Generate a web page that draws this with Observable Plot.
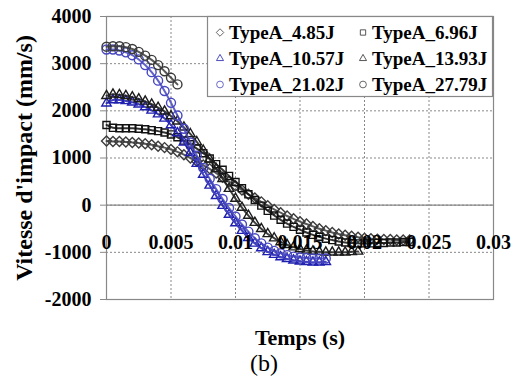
<!DOCTYPE html>
<html>
<head>
<meta charset="utf-8">
<script src="https://cdn.jsdelivr.net/npm/d3@7"></script>
<script src="https://cdn.jsdelivr.net/npm/@observablehq/plot@0.6"></script>
<style>
  body { margin: 0; background: #fff; }
  #wrap { position: relative; width: 511px; height: 385px; overflow: hidden; }
  #legend { position: absolute; left: 0; top: 0; pointer-events: none; }
</style>
</head>
<body>
<div id="wrap"></div>
<script>
// ---- data ----
const times = [0,0.0005,0.001,0.0015,0.002,0.0025,0.003,0.0035,0.004,0.0045,0.005,0.0055,0.006,0.0065,0.007,0.0075,0.008,0.0085,0.009,0.0095,0.01,0.0105,0.011,0.0115,0.012,0.0125,0.013,0.0135,0.014,0.0145,0.015,0.0155,0.016,0.0165,0.017,0.0175,0.018,0.0185,0.019,0.0195,0.02,0.0205,0.021,0.0215,0.022,0.0225,0.023,0.0235];

const seriesNames = ["TypeA_4.85J","TypeA_6.96J","TypeA_10.57J","TypeA_13.93J","TypeA_21.02J","TypeA_27.79J"];

const v485 = [1360,1350,1350,1340,1330,1320,1300,1280,1250,1220,1180,1130,1070,1000,930,850,770,680,590,500,410,320,230,150,70,-10,-90,-160,-230,-290,-350,-400,-450,-500,-540,-580,-610,-640,-660,-680,-700,-710,-720,-730,-730,-740,-740,-740];
const v696 = [1700,1640,1630,1630,1630,1620,1610,1590,1570,1540,1500,1440,1370,1290,1200,1100,990,870,750,620,490,360,230,110,-10,-120,-220,-310,-390,-460,-520,-580,-630,-670,-710,-740,-770,-790,-800,-810,-810,-810,-800,-800,-790,-790,-780,-780];
const v1057 = [2160,2230,2230,2210,2180,2140,2080,2010,1930,1840,1700,1530,1330,1110,880,650,420,200,-10,-200,-380,-540,-690,-810,-910,-990,-1050,-1100,-1140,-1170,-1190,-1200,-1210,-1210,-1200];
const v1393 = [2320,2350,2340,2320,2290,2250,2200,2140,2070,1990,1890,1780,1650,1510,1340,1160,970,770,560,350,140,-50,-220,-370,-500,-610,-700,-780,-840,-890,-930,-960,-980,-990,-1000,-1000,-1000,-1000,-990,-980];
const v2102 = [3300,3300,3280,3240,3180,3090,2970,2820,2640,2420,2170,1900,1620,1330,1050,790,560,340,130,-60,-240,-410,-560,-700,-810,-900,-970,-1020,-1060,-1090,-1110,-1120,-1130,-1130,-1130];
const v2779 = [3360,3370,3370,3350,3310,3250,3170,3080,2970,2840,2700,2560];

const xTicks = [0,0.005,0.01,0.015,0.02,0.025,0.03];
const xTickLabels = ["0","0.005","0.01","0.015","0.02","0.025","0.03"];
const yTicks = [-2000,-1000,0,1000,2000,3000,4000];
const yTickLabels = ["-2000","-1000","0","1000","2000","3000","4000"];

// ---- styling per series ----
const seriesValues = [v485, v696, v1057, v1393, v2102, v2779];
const symbols = ["diamond2","square2","triangle2","triangle2","circle","circle"];
const colors = ["#3c3c3c","#111","#1f1fb0","#1c1c1c","#4646c0","#3a3a3a"];
const legendColors = ["#555","#444","#3a3ab8","#444","#5a5ac0","#555"];

const rows = seriesNames.map((name, k) =>
  seriesValues[k].map((v, i) => ({series: name, t: times[i], v}))
);

const FONT = "'Liberation Serif', 'Times New Roman', serif";

const marks = [
  Plot.ruleY(yTicks, {stroke: "#888", strokeDasharray: "2,2", strokeWidth: 1}),
  Plot.ruleX(xTicks, {stroke: "#888", strokeDasharray: "2,2", strokeWidth: 1}),
  Plot.ruleY([0], {stroke: "#888", strokeWidth: 1.2}),
  Plot.frame({stroke: "#888", strokeWidth: 1.2}),
  Plot.axisY(yTicks, {
    anchor: "left", tickSize: 6, tickPadding: 9, stroke: "#888",
    tickFormat: d => yTickLabels[yTicks.indexOf(d)],
    fontSize: 20, fontWeight: "bold", fontFamily: FONT, fill: "#000", label: null
  })
];

rows.forEach((data, k) => {
  marks.push(Plot.line(data, {x: "t", y: "v", stroke: colors[k], strokeWidth: 2, curve: "catmull-rom", strokeOpacity: 0.85}));
  marks.push(Plot.dot(data, {x: "t", y: "v", symbol: () => symbols[k], r: 4.5, stroke: colors[k], strokeWidth: 1.4, fill: "none"}));
});

marks.push(
  Plot.text(xTicks, {x: d => d, y: 0, dy: 37, text: (d, i) => xTickLabels[i], fontSize: 20, fontWeight: "bold", fontFamily: FONT, fill: "#000"}),
  Plot.text(["Vitesse d'impact (mm/s)"], {frameAnchor: "left", textAnchor: "middle", dx: -82, rotate: -90, fontSize: 24, fontWeight: "bold", fontFamily: FONT, fill: "#000"}),
  Plot.text(["Temps (s)"], {frameAnchor: "bottom", textAnchor: "middle", dy: 45, fontSize: 22, fontWeight: "bold", fontFamily: FONT, fill: "#000"}),
  Plot.text(["(b)"], {frameAnchor: "bottom", textAnchor: "middle", dx: -36, dy: 71, fontSize: 24, fontFamily: FONT, fill: "#000"})
);

const chart = Plot.plot({
  width: 511, height: 385,
  marginTop: 16, marginLeft: 106, marginRight: 18, marginBottom: 86,
  style: {background: "#fff", overflow: "visible"},
  x: {domain: [0, 0.03], axis: null},
  y: {domain: [-2000, 4000], axis: null},
  symbol: {domain: symbols},
  marks
});
document.getElementById("wrap").appendChild(chart);

// ---- legend box ----
const lg = d3.select("#wrap").append("svg")
  .attr("id", "legend").attr("width", 511).attr("height", 120);
lg.append("rect").attr("x", 207.5).attr("y", 16.5).attr("width", 285).attr("height", 80)
  .attr("fill", "#fff").attr("stroke", "#888").attr("stroke-width", 1.2);
const symMap = {diamond2: d3.symbolDiamond2, square2: d3.symbolSquare2, triangle2: d3.symbolTriangle2, circle: d3.symbolCircle};
const colX = [220, 363];
const rowY = [38.5, 64.5, 90.5];
seriesNames.forEach((name, k) => {
  const cx = colX[k % 2], by = rowY[Math.floor(k / 2)];
  lg.append("path")
    .attr("d", d3.symbol(symMap[symbols[k]], 36)())
    .attr("transform", `translate(${cx},${by - 6})`)
    .attr("fill", "none").attr("stroke", legendColors[k]).attr("stroke-width", 0.9);
  lg.append("text").attr("x", cx + 9).attr("y", by)
    .attr("font-family", FONT).attr("font-weight", "bold").attr("font-size", 19)
    .attr("fill", "#000").text(name);
});
</script>
</body>
</html>
